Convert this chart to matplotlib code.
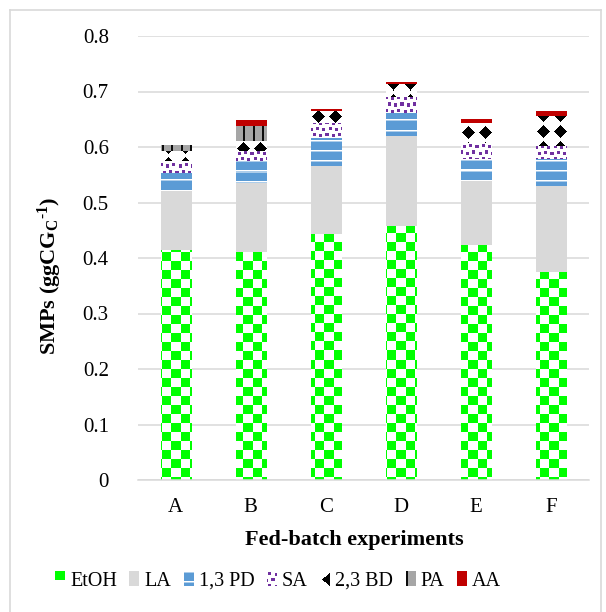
import numpy as np
import matplotlib
matplotlib.use('Agg')
import matplotlib.pyplot as plt
import matplotlib.colors as mcolors
from matplotlib.patches import Rectangle
from matplotlib.legend_handler import HandlerBase
from matplotlib.image import BboxImage
from matplotlib.transforms import Bbox, TransformedBbox
from matplotlib.lines import Line2D

# ---------------- data ----------------
categories = ['A', 'B', 'C', 'D', 'E', 'F']
etoh = [0.414, 0.410, 0.444, 0.458, 0.423, 0.374]
la = [0.107, 0.126, 0.122, 0.161, 0.115, 0.156]
pd13 = [0.033, 0.038, 0.050, 0.042, 0.040, 0.048]
sa = [0.020, 0.018, 0.027, 0.029, 0.029, 0.023]
bd23 = [0.019, 0.018, 0.021, 0.024, 0.036, 0.055]
pa = [0.010, 0.028, 0.0, 0.0, 0.0, 0.0]
aa = [0.001, 0.011, 0.005, 0.003, 0.007, 0.009]
series_names = ['EtOH', 'LA', '1,3 PD', 'SA', '2,3 BD', 'PA', 'AA']
yticks = [0, 0.1, 0.2, 0.3, 0.4, 0.5, 0.6, 0.7, 0.8]
ytick_labels = ['0', '0.1', '0.2', '0.3', '0.4', '0.5', '0.6', '0.7', '0.8']

plt.rcParams['font.family'] = ['Liberation Serif', 'DejaVu Serif']
plt.rcParams['mathtext.fontset'] = 'custom'
plt.rcParams['mathtext.bf'] = 'Liberation Serif:bold'
plt.rcParams['mathtext.rm'] = 'Liberation Serif:bold'
plt.rcParams['mathtext.default'] = 'bf'


def rgb(h):
    return np.array(mcolors.to_rgb(h))


# ---------------- pattern tiles ----------------
def tile_checker():
    n = 9
    t = np.ones((2 * n, 2 * n, 3))
    g = rgb('#00ff00')
    t[:n, :n] = g
    t[n:, n:] = g
    return t


def tile_solid(c):
    return np.tile(rgb(c), (2, 2, 1))


def tile_hlines():
    b = rgb('#5b9bd5')
    t = np.tile(b, (10, 1, 1))
    t[0] = 1.0
    t[1] = (b + 1) / 2
    return t


def tile_confetti():
    t = np.ones((12, 12, 3))
    p = rgb('#7030a0')
    for r, c in [(1, 1), (2, 7), (7, 4), (8, 10)]:
        rr = [(r + i) % 12 for i in range(3)]
        cc = [(c + i) % 12 for i in range(3)]
        for i in rr:
            for j in cc:
                t[i, j] = p
    return t


def tile_diamond():
    n = 16
    yy, xx = np.mgrid[0:n, 0:n]
    d = np.abs(xx - 8) + np.abs(yy - 8)
    t = np.ones((n, n, 3))
    t[d <= 6.2] = 0
    return t


def tile_vlines():
    t = np.tile(rgb('#a6a6a6'), (1, 9, 1))
    t[:, 0:2] = 0.05
    return t


tiles = [tile_checker(), tile_solid('#d9d9d9'), tile_hlines(), tile_confetti(),
         tile_diamond(), tile_vlines(), tile_solid('#c00000')]
base_colors = ['#00ff00', '#d9d9d9', '#5b9bd5', '#7030a0', '#000000', '#a6a6a6', '#c00000']
# horizontal anchoring: None = global, number = offset relative to bar's left edge
x_anchor = [None, None, None, None, 1, None, None]
# vertical global offset
y_shift = [0, 0, 0, 0, -124, 0, 0]

FIG_W, FIG_H, DPI = 6.06, 6.12, 100


def make_pattern(tile, w, h, ox=0, oy=0):
    th, tw = tile.shape[:2]
    big = np.tile(tile, (h // th + 3, w // tw + 3, 1))
    ox %= tw
    oy %= th
    return big[oy:oy + h, ox:ox + w]


# ---------------- figure ----------------
fig = plt.figure(figsize=(FIG_W, FIG_H), dpi=DPI)
W, H = FIG_W * DPI, FIG_H * DPI
ax = fig.add_axes([138 / W, (H - 480) / H, 451 / W, 444 / H])

x = np.arange(len(categories))
bar_w = 0.4
series = [etoh, la, pd13, sa, bd23, pa, aa]
bottom = np.zeros(len(categories))
containers = []
for vals, col in zip(series, base_colors):
    bc = ax.bar(x, vals, bar_w, bottom=bottom, color=col, linewidth=0, zorder=2)
    containers.append(bc)
    bottom = bottom + np.array(vals)

ax.set_xlim(-0.5, len(categories) - 0.5)
ax.set_ylim(0, 0.8)

# fill bars with pattern images
for bc, tile, xa, ys in zip(containers, tiles, x_anchor, y_shift):
    for patch in bc.patches:
        if patch.get_height() <= 0:
            continue
        bb = patch.get_window_extent()
        w = max(1, int(round(bb.width)))
        h = max(1, int(round(bb.height)))
        ox = int(round(bb.x0)) if xa is None else xa
        oy = int(round(H - bb.y1)) + ys
        arr = make_pattern(tile, w, h, ox, oy)
        im = ax.imshow(arr, extent=(patch.get_x(), patch.get_x() + patch.get_width(),
                                    patch.get_y(), patch.get_y() + patch.get_height()),
                       origin='upper', aspect='auto', interpolation='nearest', zorder=3)
        im.set_clip_path(patch)

ax.set_xlim(-0.5, len(categories) - 0.5)
ax.set_ylim(0, 0.8)

ax.set_yticks(yticks)
ax.set_yticklabels(ytick_labels)
ax.set_xticks(x)
ax.set_xticklabels(categories)
ax.tick_params(axis='y', length=0, pad=21, labelsize=15)
ax.tick_params(axis='x', length=0, pad=13, labelsize=15)
ax.grid(axis='y', color='#d9d9d9', linewidth=1.1, zorder=0)
ax.set_axisbelow(True)
for s in ['top', 'right', 'left']:
    ax.spines[s].set_visible(False)
ax.spines['bottom'].set_color('#d9d9d9')
ax.spines['bottom'].set_linewidth(1.1)
ax.spines['bottom'].set_zorder(4)

fig.text(354 / W, (H - 540) / H, 'Fed-batch experiments', fontsize=16, fontweight='bold',
         ha='center', va='center')
fig.text(50 / W, (H - 276) / H, 'SMPs (ggCG$_{\\mathbf{C}}$$^{\u20101}$)', fontsize=16,
         fontweight='bold', rotation=90, ha='center', va='center')


# ---------------- legend ----------------
class ImgHandler(HandlerBase):
    def __init__(self, tile):
        super().__init__()
        self.tile = tile

    def create_artists(self, legend, orig_handle, xdescent, ydescent, width, height,
                       fontsize, trans):
        bb = Bbox.from_bounds(-xdescent, -ydescent, width, height)
        tbb = TransformedBbox(bb, trans)
        wpx = max(1, int(round(width * DPI / 72)))
        hpx = max(1, int(round(height * DPI / 72)))
        img = BboxImage(tbb, interpolation='nearest', origin='upper')
        img.set_data(make_pattern(self.tile, wpx, hpx, 0, 0))
        return [img]


handles = [Rectangle((0, 0), 1, 1) for _ in series_names]
hmap = {h: ImgHandler(t) for h, t in zip(handles, tiles)}
fig.legend(handles, series_names, handler_map=hmap, loc='center',
           bbox_to_anchor=(278 / W, (H - 581) / H), ncol=7, frameon=False,
           fontsize=14.5, handlelength=0.45, handleheight=0.75, handletextpad=0.3,
           columnspacing=0.62, borderpad=0, borderaxespad=0)

# chart border
border_col = '#d9d9d9'
fig.add_artist(Line2D([10 / W, 10 / W], [0, (H - 10) / H], color=border_col, lw=1.2))
fig.add_artist(Line2D([10 / W, 601 / W], [(H - 10) / H, (H - 10) / H], color=border_col, lw=1.2))
fig.add_artist(Line2D([601 / W, 601 / W], [0, (H - 10) / H], color=border_col, lw=1.2))

fig.savefig('out.png', dpi=DPI)
